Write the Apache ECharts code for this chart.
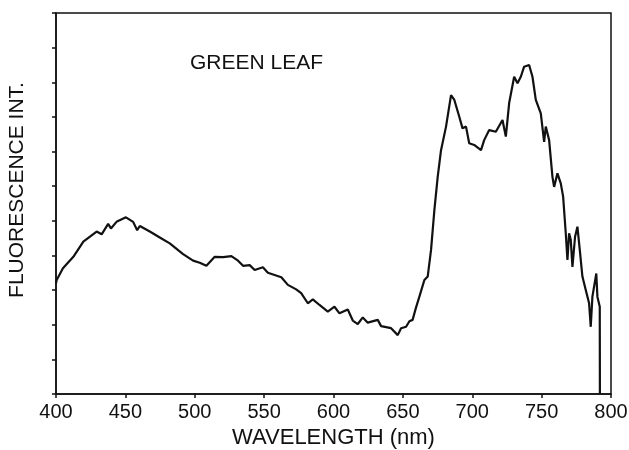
<!DOCTYPE html>
<html>
<head>
<meta charset="utf-8">
<script src="https://cdn.jsdelivr.net/npm/echarts@6/dist/echarts.min.js"></script>
<style>html,body{margin:0;padding:0;background:#fff;}#c{width:629px;height:450px;}</style>
</head>
<body>
<div id="c"></div>
<script>
var wavelengths = [400,400.5,405,412.5,419.7,429.3,432.9,437.6,439.6,443.6,450.4,455.6,458.5,460.4,467.6,474.8,482,491.6,498.8,503.6,508.4,514.4,520.4,526.4,531.2,534.8,539.6,543.2,549.1,552.7,562.4,567.1,573.1,576.7,581.5,585.1,589.9,595.9,600.7,604.3,610.3,613.9,617.5,621.1,624.7,631.9,634.3,641.5,646.3,648.7,652.3,654.7,657,659.5,661.9,665.5,667.9,670.3,672.7,675.1,677.5,681.1,684.7,687.1,690.6,693,695.5,697.8,701.4,706.3,708.6,712.2,717,721.8,724.2,726.6,730.2,732.6,735,737.4,741,743.4,745.8,749.4,751.8,753,755.4,757.8,759,761.4,763.8,765.5,767.4,768.6,769.8,771,772.2,774.1,775.8,777.5,779.4,781.8,784.2,785.4,786.6,789.4,790.2,791.9,792.0];
var intensity = [3.2,3.29,3.63,3.96,4.40,4.69,4.61,4.91,4.78,4.97,5.10,4.97,4.73,4.85,4.69,4.52,4.35,4.04,3.85,3.79,3.70,3.96,3.95,3.98,3.85,3.70,3.72,3.58,3.66,3.50,3.37,3.15,3.02,2.91,2.62,2.73,2.57,2.38,2.52,2.33,2.44,2.12,2.02,2.21,2.06,2.14,1.96,1.90,1.70,1.90,1.94,2.10,2.14,2.50,2.81,3.29,3.39,4.16,5.31,6.27,7.04,7.72,8.63,8.49,8.01,7.67,7.72,7.24,7.19,7.04,7.33,7.62,7.57,7.91,7.43,8.40,9.16,8.97,9.16,9.45,9.50,9.16,8.49,8.10,7.28,7.72,7.33,6.27,5.98,6.37,6.08,5.70,4.64,3.87,4.64,4.45,3.67,4.54,4.83,4.16,3.39,3.00,2.62,1.94,2.81,3.48,2.81,2.52,0];
var xTicks = [400,450,500,550,600,650,700,750,800];
var xName = 'WAVELENGTH (nm)';
var yName = 'FLUORESCENCE INT.';
var label = 'GREEN LEAF';

var data = wavelengths.map(function(w,i){return [w,intensity[i]];});
var chart = echarts.init(document.getElementById('c'));
var font = 'Liberation Sans, Arial, Helvetica, sans-serif';
chart.setOption({
  animation:false,
  backgroundColor:'#fff',
  grid:{left:56,right:18,top:13,bottom:56,show:true,borderColor:'#111',borderWidth:1.5,backgroundColor:'transparent',outerBoundsMode:'none',containLabel:false},
  title:{text:label,left:185,top:48,textStyle:{fontFamily:font,fontSize:21,fontWeight:'normal',color:'#111'}},
  graphic:[{type:'text',x:17,y:190,rotation:Math.PI/2,
    style:{text:yName,fontFamily:font,fontSize:21,fill:'#111',textAlign:'center',textVerticalAlign:'middle'}}],
  xAxis:{type:'value',min:400,max:800,interval:50,
    name:xName,nameLocation:'middle',nameGap:33,nameTextStyle:{fontFamily:font,fontSize:22,color:'#111'},
    axisLine:{show:true,lineStyle:{color:'#111',width:1.5}},
    axisTick:{show:true,length:4,lineStyle:{color:'#111',width:1.5}},
    axisLabel:{fontFamily:font,fontSize:20,color:'#111',margin:8,
      formatter:function(v){return xTicks.indexOf(v)>=0?String(v):'';}},
    splitLine:{show:false}},
  yAxis:{type:'value',min:0,max:11,interval:1,
    axisLine:{show:true,lineStyle:{color:'#111',width:1.5}},
    axisTick:{show:true,length:4,lineStyle:{color:'#111',width:1.5}},
    axisLabel:{show:false},
    splitLine:{show:false}},
  series:[{type:'line',data:data,showSymbol:false,symbol:'none',
    lineStyle:{color:'#111',width:2.2},z:5}]
});
</script>
</body>
</html>
